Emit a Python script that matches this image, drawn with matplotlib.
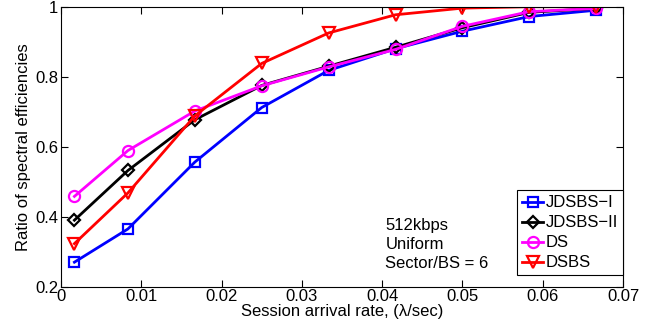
import numpy as np
import matplotlib.pyplot as plt

plt.rcParams['font.family'] = ['Liberation Sans', 'DejaVu Sans']

# Session arrival rates (1/sec)
rate = [1/600, 1/120, 1/60, 1/40, 1/30, 1/24, 1/20, 7/120, 1/15]

jdsbs_1 = [0.27, 0.365, 0.556, 0.712, 0.818, 0.880, 0.930, 0.972, 0.990]
jdsbs_2 = [0.39, 0.532, 0.677, 0.775, 0.830, 0.884, 0.940, 0.984, 0.995]
ds = [0.458, 0.589, 0.702, 0.774, 0.828, 0.878, 0.944, 0.986, 0.995]
dsbs = [0.323, 0.468, 0.688, 0.838, 0.925, 0.977, 0.996, 1.0, 1.0]

labels = ['JDSBS\u2212I', 'JDSBS\u2212II', 'DS', 'DSBS']

fig = plt.figure(figsize=(6.54, 3.26), dpi=100)
ax = fig.add_axes([0.0933, 0.1206, 0.8593, 0.8588])

ax.plot(rate, jdsbs_1, color='blue', marker='s', lw=2, ms=7, mfc='none', mew=1.6, label=labels[0])
ax.plot(rate, jdsbs_2, color='black', marker='D', lw=2, ms=6.5, mfc='none', mew=1.6, label=labels[1])
ax.plot(rate, ds, color='magenta', marker='o', lw=2, ms=8, mfc='none', mew=1.6, label=labels[2])
ax.plot(rate, dsbs, color='red', marker='v', lw=2, ms=9, mfc='none', mew=1.6, label=labels[3])

ax.set_xlim(0, 0.07)
ax.set_ylim(0.2, 1.0)
ax.set_xticks(np.arange(0, 0.071, 0.01))
ax.set_xticklabels(['0', '0.01', '0.02', '0.03', '0.04', '0.05', '0.06', '0.07'])
ax.set_yticks([0.2, 0.4, 0.6, 0.8, 1.0])
ax.set_yticklabels(['0.2', '0.4', '0.6', '0.8', '1'])
ax.tick_params(direction='in', top=True, right=True, labelsize=12, length=5, pad=2)
ax.set_xlabel('Session arrival rate, (\u03bb/sec)', fontsize=12, labelpad=0)
ax.set_ylabel('Ratio of spectral efficiencies', fontsize=12, labelpad=3)

ax.text(0.0404, 0.395, '512kbps\nUniform\nSector/BS = 6', fontsize=12, linespacing=1.3, va='top')

leg = ax.legend(loc='lower right', bbox_to_anchor=(1.0, 0.04), fontsize=12, handlelength=1.25,
                handletextpad=0.15, borderpad=0.3, labelspacing=0.3, borderaxespad=0,
                fancybox=False, edgecolor='black', framealpha=1)
leg.get_frame().set_linewidth(0.8)

plt.savefig('out.png', dpi=100)
